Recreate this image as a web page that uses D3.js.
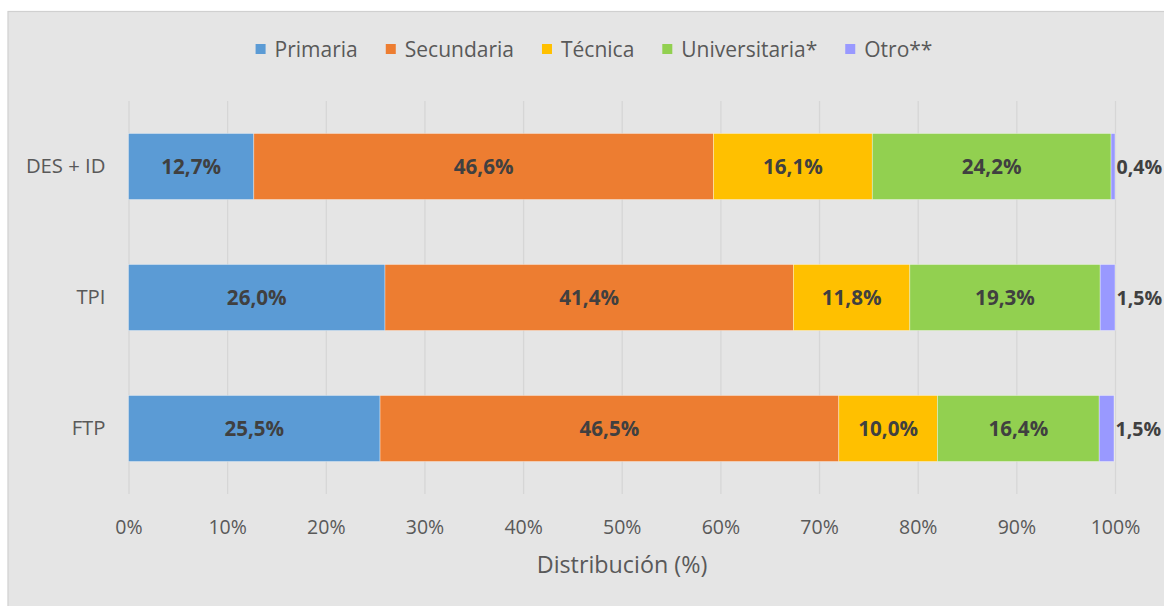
<!DOCTYPE html>
<html>
<head>
<meta charset="utf-8">
<script src="https://cdn.jsdelivr.net/npm/d3@7"></script>
<style>
  html, body { margin: 0; padding: 0; background: #ffffff; }
  svg { display: block; font-family: "Open Sans", sans-serif; }
</style>
</head>
<body>
<div id="chart"></div>
<script>
// categories (top to bottom)
var categories = ["DES + ID", "TPI", "FTP"];
// series, in stacking order
var seriesNames = ["Primaria", "Secundaria", "Técnica", "Universitaria*", "Otro**"];
var seriesColors = ["#5B9BD5", "#ED7D31", "#FFC000", "#92D050", "#9999FF"];
// values per series, one per category
var primaria = [12.7, 26.0, 25.5];
var secundaria = [46.6, 41.4, 46.5];
var tecnica = [16.1, 11.8, 10.0];
var universitaria = [24.2, 19.3, 16.4];
var otro = [0.4, 1.5, 1.5];
var tickValues = [0, 10, 20, 30, 40, 50, 60, 70, 80, 90, 100];
var axisTitle = "Distribución (%)";

var seriesValues = [primaria, secundaria, tecnica, universitaria, otro];

var width = 1164, height = 606;
var plot = { left: 128.5, right: 1115, top: 101, bottom: 494 };

var svg = d3.select("#chart").append("svg")
	.attr("width", width)
	.attr("height", height);

// chart frame
svg.append("rect")
	.attr("x", 8)
	.attr("y", 11.5)
	.attr("width", width + 10)
	.attr("height", height + 10)
	.attr("fill", "#e5e5e5")
	.attr("stroke", "#d0d0d0")
	.attr("stroke-width", 1.2);

var x = d3.scaleLinear().domain([0, 100]).range([plot.left, plot.right]);
var y = d3.scaleBand().domain(categories).range([plot.top, plot.bottom])
	.paddingInner(0.496).paddingOuter(0.248);

// gridlines
svg.append("g")
	.attr("class", "grid")
	.attr("transform", "translate(0," + plot.bottom + ")")
	.call(d3.axisBottom(x).tickValues(tickValues).tickSize(-(plot.bottom - plot.top)).tickFormat(""))
	.call(function(g) {
		g.select(".domain").remove();
		g.selectAll("line").attr("stroke", "#d6d6d6").attr("stroke-width", 1.3);
	});

// stacked data
var rows = categories.map(function(c, i) {
	var r = { cat: c };
	seriesNames.forEach(function(s, j) { r[s] = seriesValues[j][i]; });
	return r;
});
var stacked = d3.stack().keys(seriesNames)(rows);

var layers = svg.append("g").selectAll("g")
	.data(stacked)
	.enter()
	.append("g")
	.attr("fill", function(d, i) { return seriesColors[i]; });

layers.selectAll("rect")
	.data(function(d) { return d; })
	.enter()
	.append("rect")
	.attr("x", function(d) { return x(d[0]); })
	.attr("y", function(d) { return y(d.data.cat); })
	.attr("width", function(d) { return x(d[1]) - x(d[0]); })
	.attr("height", y.bandwidth())
	.attr("stroke", "#ffffff")
	.attr("stroke-opacity", 0.45)
	.attr("stroke-width", 0.8);

function fmt(v) { return v.toFixed(1).replace(".", ",") + "%"; }

// data labels
var last = seriesNames.length - 1;
layers.each(function(layer, li) {
	d3.select(this).selectAll("text")
		.data(layer)
		.enter()
		.append("text")
		.attr("x", function(d) { return li === last ? x(d[1]) + 1.5 : (x(d[0]) + x(d[1])) / 2; })
		.attr("y", function(d) { return y(d.data.cat) + y.bandwidth() / 2; })
		.attr("dy", "0.36em")
		.attr("text-anchor", li === last ? "start" : "middle")
		.attr("fill", "#404040")
		.attr("font-weight", "bold")
		.attr("font-size", li === last ? "19.6px" : "20.6px")
		.text(function(d) { return fmt(d[1] - d[0]); });
});

// category labels
svg.append("g")
	.attr("transform", "translate(" + plot.left + ",0)")
	.call(d3.axisLeft(y).tickSize(0).tickPadding(23))
	.call(function(g) {
		g.select(".domain").remove();
		g.selectAll("text")
			.attr("fill", "#595959")
			.attr("font-size", "20.3px")
			.attr("font-family", "Open Sans, sans-serif");
	});

// x tick labels
svg.append("g")
	.attr("transform", "translate(0," + plot.bottom + ")")
	.call(d3.axisBottom(x).tickValues(tickValues).tickSize(0).tickFormat(function(d) { return d + "%"; }))
	.call(function(g) {
		g.select(".domain").remove();
		g.selectAll("text")
			.attr("y", 33)
			.attr("dy", "0.36em")
			.attr("fill", "#595959")
			.attr("font-size", "19.5px")
			.attr("font-family", "Open Sans, sans-serif");
	});

// axis title
svg.append("text")
	.attr("x", 622)
	.attr("y", 565)
	.attr("dy", "0.36em")
	.attr("text-anchor", "middle")
	.attr("fill", "#595959")
	.attr("font-size", "23.3px")
	.text(axisTitle);

// legend, centred
var legend = svg.append("g").attr("transform", "translate(0,49)");
var items = legend.selectAll("g")
	.data(seriesNames)
	.enter()
	.append("g");
items.append("rect")
	.attr("y", -5)
	.attr("width", 10)
	.attr("height", 10)
	.attr("fill", function(d, i) { return seriesColors[i]; });
items.append("text")
	.attr("x", 19)
	.attr("dy", "0.36em")
	.attr("fill", "#595959")
	.attr("font-size", "21px")
	.text(function(d) { return d; });

var pos = 0, gap = 28, offsets = [];
items.each(function() {
	offsets.push(pos);
	pos += 19 + this.querySelector("text").getComputedTextLength() + gap;
});
var total = pos - gap;
var start = 594 - total / 2;
items.attr("transform", function(d, i) { return "translate(" + (start + offsets[i]) + ",0)"; });
</script>
</body>
</html>
